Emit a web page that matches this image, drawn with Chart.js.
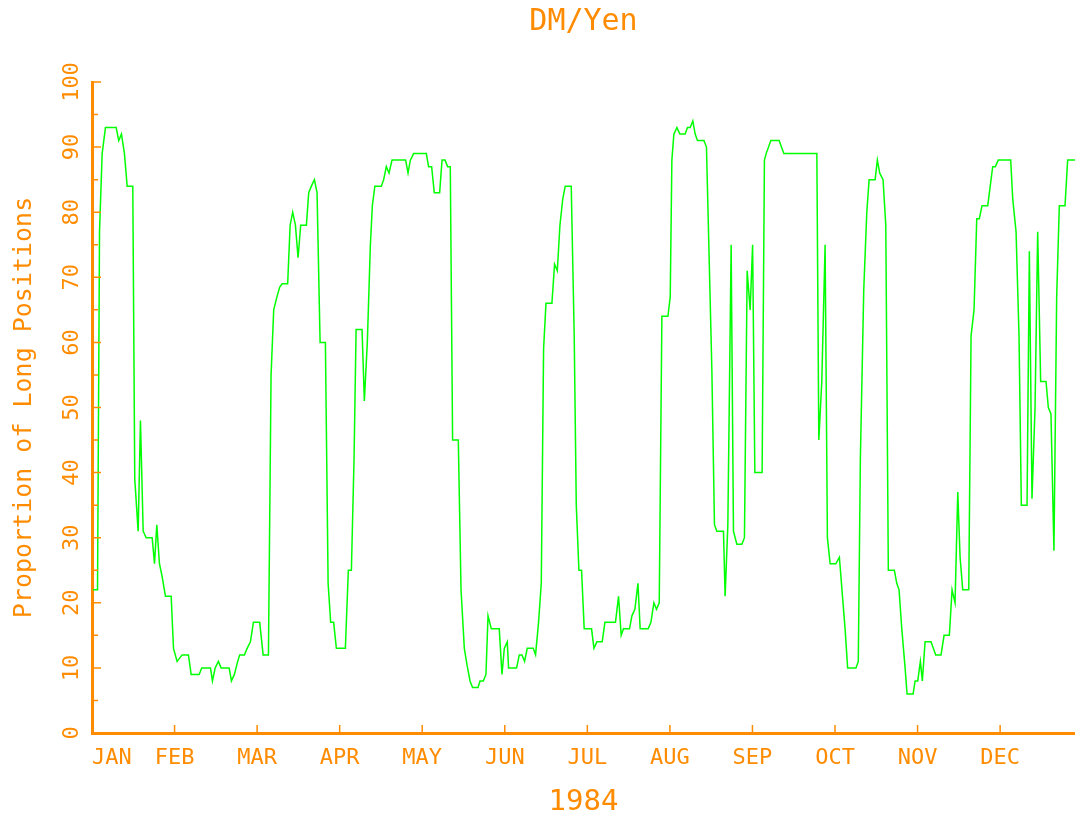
<!DOCTYPE html>
<html><head><meta charset="utf-8">
<script src="https://cdn.jsdelivr.net/npm/chart.js@4.4.1/dist/chart.umd.min.js"></script>
<style>html,body{margin:0;padding:0;background:#fff;}canvas{display:block;}</style>
</head><body>
<canvas id="c" width="1075" height="825"></canvas>
<script>
const monthLabels = ['JAN','FEB','MAR','APR','MAY','JUN','JUL','AUG','SEP','OCT','NOV','DEC'];
const yTicks = [0,10,20,30,40,50,60,70,80,90,100];
const xEnd = 11.907;
// x position in months from 1 Jan 1984
const xMonths = [0.010,0.067,0.091,0.123,0.163,0.293,0.324,0.357,0.393,0.426,
0.494,0.518,0.559,0.587,0.620,0.656,0.729,0.757,0.785,0.817,
0.850,0.890,0.959,0.987,1.031,1.092,1.168,1.201,1.298,1.329,
1.435,1.459,1.492,1.531,1.564,1.661,1.689,1.725,1.765,1.789,
1.846,1.879,1.919,1.955,2.031,2.073,2.137,2.169,2.201,2.240,
2.274,2.303,2.370,2.400,2.431,2.464,2.496,2.528,2.597,2.625,
2.657,2.694,2.726,2.763,2.827,2.860,2.891,2.927,2.960,3.069,
3.105,3.142,3.174,3.199,3.271,3.299,3.335,3.372,3.396,3.426,
3.505,3.533,3.565,3.598,3.634,3.799,3.828,3.856,3.896,4.050,
4.077,4.114,4.146,4.211,4.240,4.276,4.308,4.340,4.368,4.437,
4.470,4.510,4.542,4.579,4.610,4.676,4.700,4.740,4.772,4.797,
4.837,4.933,4.966,4.994,5.030,5.046,5.143,5.176,5.208,5.240,
5.272,5.345,5.373,5.409,5.442,5.470,5.499,5.571,5.603,5.636,
5.668,5.702,5.732,5.805,5.841,5.866,5.898,5.930,5.962,6.051,
6.080,6.116,6.180,6.213,6.341,6.378,6.410,6.438,6.511,6.540,
6.576,6.613,6.640,6.737,6.770,6.806,6.838,6.871,6.903,6.976,
7.004,7.024,7.048,7.085,7.121,7.185,7.213,7.246,7.278,7.306,
7.334,7.412,7.443,7.508,7.540,7.569,7.649,7.669,7.702,7.742,
7.770,7.811,7.872,7.903,7.936,7.972,8.002,8.029,8.117,8.145,
8.166,8.223,8.323,8.380,8.780,8.804,8.840,8.880,8.908,8.941,
9.010,9.053,9.122,9.153,9.254,9.282,9.307,9.348,9.385,9.413,
9.486,9.513,9.542,9.582,9.615,9.646,9.719,9.748,9.776,9.809,
9.849,9.873,9.946,9.970,10.002,10.034,10.058,10.091,10.163,10.220,
10.284,10.321,10.385,10.418,10.454,10.487,10.515,10.547,10.620,10.648,
10.684,10.717,10.748,10.781,10.850,10.910,10.942,10.978,11.128,11.153,
11.193,11.229,11.257,11.326,11.354,11.386,11.423,11.455,11.491,11.556,
11.584,11.616,11.652,11.685,11.717,11.786,11.818,11.907];
const longPct = [22,22,77,89,93,93,91,92,89,84,
84,39,31,48,31,30,30,26,32,26,
24,21,21,13,11,12,12,9,9,10,
10,8,10,11,10,10,8,9,11,12,
12,13,14,17,17,12,12,55,65,67,
68.5,69,69,78,80,78,73,78,78,83,
84,85,83,60,60,23,17,17,13,13,
25,25,42,62,62,51,60,75,81,84,
84,85,87,86,88,88,86,88,89,89,
87,87,83,83,88,88,87,87,45,45,
22,13,10.5,8,7,7,8,8,9,18,
16,16,9,13,14,10,10,12,12,11,
13,13,12,17,23,59,66,66,72,71,
78,82,84,84,61,35,25,25,16,16,
13,14,14,17,17,21,15,16,16,18,
19,23,16,16,17,20,19,20,64,64,
67,88,92,93,92,92,93,93,94,92,
91,91,90,56,32,31,31,21,32,75,
31,29,29,30,71,65,75,40,40,88,
89,91,91,89,89,45,54,75,30,26,
26,27,16,10,10,11,42,68,80,85,
85,88,86,85,78,25,25,23,22,16,
10,6,6,8,8,11,8,14,14,12,
12,15,15,22,20,37,27,22,22,61,
65,79,79,81,81,87,87,88,88,82,
77,61,35,35,74,36,50,77,54,54,
50,49,28,67,81,81,88,88];

const ORANGE = '#ff8c00';
const GREEN = '#00ff00';
const FONT = "'DejaVu Sans Mono', monospace";

const innerTicks = {
  id: 'innerTicks',
  afterDatasetsDraw(chart) {
    const {ctx, chartArea: a, scales: {x, y}} = chart;
    ctx.save();
    ctx.strokeStyle = ORANGE;
    ctx.lineWidth = 1.5;
    ctx.beginPath();
    for (let v = 5; v <= 100; v += 5) {
      const py = y.getPixelForValue(v);
      const len = v % 10 === 0 ? 9 : 6;
      ctx.moveTo(a.left, py); ctx.lineTo(a.left + len, py);
    }
    for (let m = 1; m < monthLabels.length; m++) {
      const px = x.getPixelForValue(m);
      ctx.moveTo(px, a.bottom); ctx.lineTo(px, a.bottom - 8);
    }
    ctx.stroke();
    ctx.restore();
  }
};

new Chart(document.getElementById('c'), {
  type: 'line',
  data: {
    datasets: [{
      data: xMonths.map((m, i) => ({x: m, y: longPct[i]})),
      borderColor: GREEN,
      borderWidth: 1.5,
      pointRadius: 0,
      tension: 0,
      fill: false
    }]
  },
  options: {
    responsive: false,
    animation: false,
    devicePixelRatio: 1,
    layout: {padding: 0},
    plugins: {
      legend: {display: false},
      tooltip: {enabled: false},
      title: {
        display: true, text: 'DM/Yen', color: ORANGE, fullSize: false,
        font: {family: FONT, size: 30, weight: 'normal'},
        padding: {top: 4, bottom: 42}
      }
    },
    scales: {
      x: {
        type: 'linear', min: 0, max: xEnd,
        afterFit: s => { s.height = 92; s.paddingLeft = 0; s.paddingRight = 0; },
        afterBuildTicks: s => { s.ticks = monthLabels.map((_, i) => ({value: i})).concat([{value: xEnd}]); },
        ticks: {
          callback: v => (Number.isInteger(v) && monthLabels[v]) ? monthLabels[v] : '',
          align: 'inner', autoSkip: false, maxRotation: 0, minRotation: 0,
          color: ORANGE, font: {family: FONT, size: 22}, padding: 12
        },
        grid: {display: false, drawTicks: false},
        border: {display: true, color: ORANGE, width: 3},
        title: {display: true, text: '1984', color: ORANGE, font: {family: FONT, size: 29}, padding: {top: 0, bottom: 5}}
      },
      y: {
        min: 0, max: 100,
        afterFit: s => { s.width = 92; },
        afterBuildTicks: s => { s.ticks = yTicks.map(v => ({value: v})); },
        ticks: {
          minRotation: 90, maxRotation: 90, crossAlign: 'center', padding: 0, autoSkip: false,
          color: ORANGE, font: {family: FONT, size: 22}
        },
        grid: {display: false, drawTicks: false},
        border: {display: true, color: ORANGE, width: 3},
        title: {display: true, text: 'Proportion of Long Positions', color: ORANGE, font: {family: FONT, size: 25}, padding: {top: 9, bottom: 0}}
      }
    }
  },
  plugins: [innerTicks]
});
</script>
</body></html>
